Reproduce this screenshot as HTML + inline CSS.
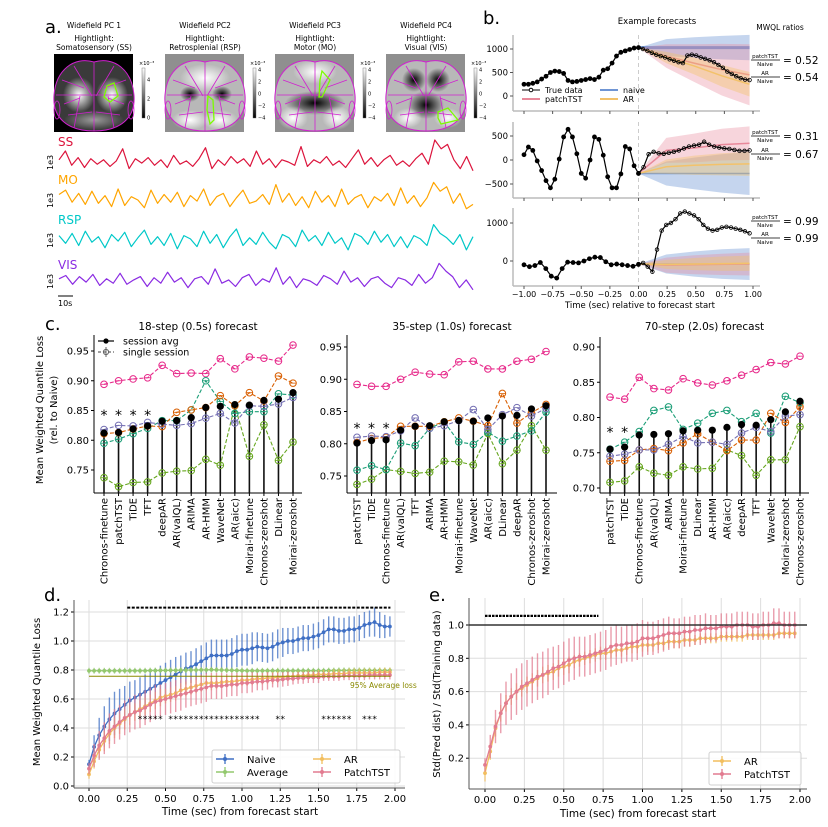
<!DOCTYPE html>
<html><head><meta charset="utf-8"><style>
html,body{margin:0;padding:0;background:#fff}
svg{display:block;font-family:"DejaVu Sans","Liberation Sans",sans-serif}
</style></head><body>
<svg id="fig" width="828" height="827" viewBox="0 0 828 827" xmlns="http://www.w3.org/2000/svg"></svg>
<script>
// ---------- DATA ----------
const traceSS=[2,10,-3,4,-5,3,-2,2,-4,1,12,-6,3,-1,4,-3,2,-5,6,-2,1,-4,3,13,-6,2,-3,5,-1,3,-4,10,-2,3,-5,2,0,-3,14,-4,2,-1,5,-3,1,-5,3,11,-2,4,-4,2,6,-3,1,-4,3,8,-2,20,12,16,2,-6,5,-8];
const traceMO=[5,9,-2,6,-4,8,-3,4,-6,10,-5,3,0,-7,9,-3,5,-2,7,-6,4,-1,10,-5,3,6,-6,2,9,-3,-1,5,-4,14,-2,6,-5,3,-7,8,-2,4,-6,10,-4,2,5,-7,3,-1,6,-5,11,-3,4,-6,2,16,8,12,-3,6,-8,-4];
const traceRSP=[4,-3,6,-5,8,-2,3,-7,5,-1,7,-6,2,9,-4,3,-5,6,-8,4,1,-6,8,-3,5,-7,3,10,-5,2,-4,7,-2,-8,5,2,-6,9,-1,4,-5,7,-3,2,-9,6,3,-4,8,-2,5,-6,3,-7,4,1,-5,14,6,2,-4,5,-9,3];
const traceVIS=[2,5,-3,4,-1,6,-4,2,-2,7,-3,1,4,-5,3,-2,8,-1,3,-6,2,4,-3,11,-2,1,-5,3,6,-4,2,-1,12,-3,4,-6,2,0,-4,5,2,-3,9,-1,3,-5,2,4,-2,-6,3,1,-4,6,-2,3,16,9,4,-6,1,-8];

const b1Past=[250,250,270,300,360,420,500,530,520,480,330,300,310,330,350,370,350,400,550,580,700,850,930,960,990,1020,1030];
const b1True=[1030,1000,960,920,880,850,820,780,750,720,700,860,880,860,820,790,760,720,660,600,520,470,420,380,350,340];
const b1Naive=[1030,1030,1030,1030,1030];
const b1NaiveW=[0,180,220,250,270];
const b1Patch=[1030,850,700,560,450];
const b1PatchW=[0,250,400,550,650];
const b1AR=[1030,820,640,430,250];
const b1ARW=[0,120,180,230,260];
const b2Past=[110,270,200,-20,-220,-430,-580,-400,20,480,640,480,130,-280,-380,0,480,430,100,-350,-580,-580,-290,280,230,-120,-280];
const b2True=[-280,-150,120,170,140,130,150,170,200,240,280,300,320,380,320,280,260,240,230,210,190,190,200];
const b2Naive=[-280,-280,-280,-280,-280];
const b2NaiveW=[0,250,330,400,450];
const b2Patch=[-280,200,250,320,350];
const b2PatchW=[0,260,300,330,350];
const b2AR=[-280,-140,-110,-90,-80];
const b2ARW=[0,150,200,230,250];
const b3Past=[-100,-150,-120,-40,-200,-400,-450,-200,-30,-40,-50,0,60,100,90,-20,-100,-80,-100,-120,-140,-90];
const b3True=[-80,-50,-150,-280,300,800,950,1000,1100,1250,1300,1250,1200,1100,950,850,800,820,880,900,880,850,820,780,730];
const b3Naive=[-80,-80,-80,-80,-80];
const b3NaiveW=[0,250,330,390,420];
const b3Patch=[-80,-110,-100,-90,-80];
const b3PatchW=[0,200,250,280,300];
const b3AR=[-80,-90,-80,-70,-60];
const b3ARW=[0,120,160,190,200];

const c1Cats=["Chronos-finetune","patchTST","TiDE","TFT","deepAR","AR(valQL)","ARIMA","AR-HMM","WaveNet","AR(aicc)","Moirai-finetune","Chronos-zeroshot","DLinear","Moirai-zeroshot"];
const c1Black=[.812,.813,.819,.824,.832,.833,.838,.855,.857,.860,.859,.867,.869,.880];
const c1Pink=[.894,.900,.903,.905,.926,.912,.913,.912,.937,.920,.940,.938,.933,.960];
const c1Orange=[.811,.813,.819,.824,.823,.847,.851,.855,.875,.858,.880,.866,.908,.896];
const c1Teal=[.795,.802,.811,.820,.833,.833,.851,.900,.865,.845,.848,.848,.878,.876];
const c1Green=[.737,.722,.729,.730,.745,.748,.749,.768,.758,.858,.773,.826,.766,.797];
const c1Purple=[.818,.825,.824,.830,.827,.825,.828,.837,.845,.829,.858,.857,.861,.872];
const c1Ticks=[0.75,0.80,0.85,0.90,0.95];

const c2Cats=["patchTST","TiDE","Chronos-finetune","AR(valQL)","TFT","ARIMA","AR-HMM","Moirai-finetune","WaveNet","AR(aicc)","DLinear","deepAR","Chronos-zeroshot","Moirai-zeroshot"];
const c2Black=[.801,.805,.806,.821,.827,.828,.834,.836,.835,.840,.843,.844,.854,.859];
const c2Pink=[.892,.889,.889,.900,.911,.908,.907,.927,.928,.916,.916,.928,.931,.943];
const c2Orange=[.802,.808,.810,.827,.827,.827,.834,.840,.835,.828,.878,.832,.848,.861];
const c2Teal=[.759,.766,.760,.801,.797,.824,.834,.803,.799,.818,.804,.812,.820,.849];
const c2Green=[.737,.745,.760,.757,.754,.756,.773,.772,.767,.816,.769,.790,.828,.790];
const c2Purple=[.810,.812,.811,.820,.840,.824,.828,.836,.853,.822,.845,.856,.843,.855];
const c2Ticks=[0.75,0.80,0.85,0.90,0.95];

const c3Cats=["patchTST","TiDE","Chronos-finetune","AR(valQL)","ARIMA","Moirai-finetune","DLinear","AR-HMM","AR(aicc)","deepAR","TFT","WaveNet","Moirai-zeroshot","Chronos-zeroshot"];
const c3Black=[.755,.758,.775,.776,.777,.781,.782,.782,.786,.790,.789,.797,.808,.823];
const c3Pink=[.829,.826,.857,.841,.839,.855,.849,.846,.852,.860,.868,.878,.876,.887];
const c3Orange=[.738,.739,.754,.756,.753,.764,.777,.765,.753,.768,.768,.806,.793,.815];
const c3Teal=[.755,.765,.780,.810,.815,.783,.792,.806,.810,.794,.806,.778,.830,.821];
const c3Green=[.708,.710,.730,.721,.718,.730,.727,.728,.754,.746,.718,.740,.740,.787];
const c3Purple=[.745,.748,.754,.754,.762,.773,.764,.765,.762,.778,.786,.780,.802,.804];
const c3Ticks=[0.70,0.75,0.80,0.85,0.90];

const dNaive=[.15,.27,.35,.41,.46,.50,.53,.56,.59,.61,.63,.65,.67,.69,.71,.73,.75,.77,.79,.81,.82,.84,.86,.88,.90,.90,.90,.90,.91,.93,.94,.94,.95,.96,.955,.95,.96,.98,.99,1.0,1.0,1.01,1.02,1.02,1.03,1.04,1.06,1.08,1.08,1.07,1.07,1.08,1.08,1.09,1.11,1.12,1.13,1.11,1.10,1.10];
const dNaiveErr=[.03,.08,.12,.14,.15,.15,.14,.13,.13,.12,.12,.12,.12,.12,.12,.12,.12,.12,.11,.11,.11,.11,.11,.11,.11,.11,.11,.11,.11,.11,.11,.11,.11,.10,.10,.10,.10,.10,.10,.09,.09,.09,.09,.09,.09,.09,.09,.09,.09,.09,.09,.09,.09,.09,.09,.09,.10,.09,.08,.07];
const dAverage=[.795,.795,.795,.795,.795,.795,.795,.795,.795,.795,.795,.795,.796,.796,.797,.797,.798,.798,.799,.799,.800,.800,.801,.801,.802,.801,.800,.799,.798,.797,.796,.795,.795,.795,.795,.795,.795,.795,.795,.795,.795,.795,.795,.795,.795,.795,.795,.796,.796,.797,.797,.797,.797,.797,.797,.797,.797,.797,.797,.797];
const dAvgErr=[.02,.02,.02,.02,.02,.02,.02,.02,.02,.02,.02,.02,.02,.02,.02,.02,.02,.02,.02,.02,.02,.02,.02,.02,.02,.02,.02,.02,.02,.02,.02,.02,.02,.02,.02,.02,.02,.02,.02,.02,.02,.02,.02,.02,.02,.02,.02,.02,.02,.02,.02,.02,.02,.02,.02,.02,.02,.02,.02,.02];
const dAR=[.08,.17,.25,.31,.36,.40,.43,.46,.49,.51,.53,.55,.57,.59,.61,.62,.63,.64,.66,.67,.68,.69,.70,.71,.71,.71,.715,.72,.72,.725,.73,.73,.735,.74,.74,.745,.745,.75,.75,.755,.755,.76,.76,.765,.765,.77,.77,.77,.775,.775,.775,.78,.78,.78,.78,.78,.78,.785,.785,.785];
const dARErr=[.03,.05,.06,.07,.07,.07,.07,.07,.07,.06,.06,.06,.06,.06,.06,.05,.05,.05,.05,.05,.05,.05,.05,.05,.05,.04,.04,.04,.04,.04,.04,.04,.04,.04,.04,.04,.04,.04,.03,.03,.03,.03,.03,.03,.03,.03,.03,.03,.03,.03,.03,.03,.03,.03,.03,.03,.03,.03,.03,.03];
const dPatch=[.12,.21,.28,.33,.38,.41,.44,.47,.49,.51,.52,.54,.56,.58,.59,.60,.61,.62,.63,.64,.65,.66,.67,.68,.69,.69,.69,.695,.70,.70,.71,.71,.715,.72,.72,.725,.73,.73,.735,.74,.74,.745,.745,.75,.75,.75,.755,.755,.755,.755,.76,.76,.76,.76,.76,.765,.765,.765,.765,.765];
const dPatchErr=[.04,.08,.10,.11,.12,.12,.12,.12,.12,.12,.12,.12,.12,.12,.11,.11,.11,.11,.11,.10,.10,.10,.10,.10,.09,.09,.09,.08,.08,.08,.07,.07,.07,.06,.06,.06,.05,.05,.05,.05,.04,.04,.04,.04,.04,.04,.03,.03,.03,.03,.03,.03,.03,.03,.03,.03,.03,.03,.03,.03];
const dStarIdx=[10,11,12,13,14,16,17,18,19,20,21,22,23,24,25,26,27,28,29,30,31,32,33,37,38,46,47,48,49,50,51,54,55,56];

const eAR=[.11,.24,.38,.47,.53,.57,.60,.62,.64,.66,.68,.70,.71,.72,.74,.75,.76,.78,.79,.80,.81,.82,.83,.83,.84,.85,.85,.86,.87,.87,.88,.88,.88,.89,.89,.90,.90,.90,.91,.91,.91,.92,.92,.92,.92,.93,.93,.93,.93,.93,.94,.94,.94,.94,.94,.94,.95,.95,.95,.95];
const eARErr=[.05,.05,.05,.05,.05,.05,.05,.05,.05,.05,.05,.05,.05,.05,.05,.05,.05,.04,.04,.04,.04,.04,.04,.04,.04,.04,.04,.04,.04,.04,.04,.04,.04,.04,.04,.04,.04,.04,.04,.04,.03,.03,.03,.03,.03,.03,.03,.03,.03,.03,.03,.03,.03,.03,.03,.03,.03,.03,.03,.03];
const ePatch=[.16,.27,.39,.47,.53,.57,.60,.63,.65,.67,.69,.70,.72,.74,.75,.77,.79,.80,.81,.81,.82,.83,.84,.85,.87,.88,.88,.89,.89,.90,.92,.92,.92,.93,.94,.95,.95,.95,.96,.96,.97,.97,.98,.98,.98,.99,.99,.99,1.00,1.00,1.00,.99,.99,1.00,1.00,1.01,1.01,1.00,1.00,1.00];
const ePatchErr=[.04,.07,.10,.12,.13,.14,.14,.14,.14,.14,.14,.14,.14,.13,.13,.13,.13,.13,.12,.12,.12,.12,.12,.12,.12,.12,.11,.11,.11,.11,.11,.10,.10,.10,.10,.10,.09,.09,.09,.09,.09,.09,.09,.08,.08,.08,.08,.08,.08,.08,.08,.08,.08,.08,.08,.09,.09,.08,.08,.08];

// ---------- HELPERS ----------
const NS="http://www.w3.org/2000/svg";
const svg=document.getElementById('fig');
function el(tag,attrs,parent){const e=document.createElementNS(NS,tag);for(const k in attrs)e.setAttribute(k,attrs[k]);(parent||svg).appendChild(e);return e;}
function txt(x,y,s,size,opts){opts=opts||{};const t=el('text',{x:x,y:y,'font-size':size,fill:opts.fill||'#000','text-anchor':opts.anchor||'start'});if(opts.rot!==undefined)t.setAttribute('transform','rotate('+opts.rot+' '+x+' '+y+')');if(opts.weight)t.setAttribute('font-weight',opts.weight);t.textContent=s;return t;}
function line(x1,y1,x2,y2,stroke,w,dash){const l=el('line',{x1:x1,y1:y1,x2:x2,y2:y2,stroke:stroke,'stroke-width':w||1});if(dash)l.setAttribute('stroke-dasharray',dash);return l;}
function fmt(v,d){return (v<0?'\u2212':'')+Math.abs(v).toFixed(d);}

// ---------- PANEL A ----------
let t;
t=txt(45,33,'a.',18);
const pcTitles=[['Widefield PC 1','Hightlight:','Somatosensory (SS)'],['Widefield PC2','Hightlight:','Retrosplenial (RSP)'],['Widefield PC3','Hightlight:','Motor (MO)'],['Widefield PC4','Hightlight:','Visual (VIS)']];
const brainX=[54,165,275,386];
const defs=el('defs',{});
[['gA','#ffffff','#000000'],['gB','#ffffff','#9a9a9a'],['cb','#ffffff','#000000']].forEach(g=>{const lg=el('linearGradient',{id:g[0],x1:0,y1:0,x2:0,y2:1},defs);el('stop',{offset:0,'stop-color':g[1]},lg);el('stop',{offset:1,'stop-color':g[2]},lg);});
const rg=el('radialGradient',{id:'glow'},defs);el('stop',{offset:0,'stop-color':'#fff'},rg);el('stop',{offset:1,'stop-color':'#fff','stop-opacity':0},rg);
const rd=el('radialGradient',{id:'dark'},defs);el('stop',{offset:0,'stop-color':'#000'},rd);el('stop',{offset:1,'stop-color':'#000','stop-opacity':0},rd);
for(let k=0;k<4;k++){
  const x0=brainX[k];
  const tt=pcTitles[k];
  t=txt(x0+40,28,tt[0],7.5,{anchor:'middle'});
  t=txt(x0+40,41,tt[1],7.5,{anchor:'middle'});
  t=txt(x0+40,50,tt[2],7.5,{anchor:'middle'});
  const g=el('g',{});
  
  
  el('rect',{x:x0,y:54,width:79,height:78,fill:k===0?'#000':'#8f8f8f'},g);
  const outline='M'+(x0+40)+',62 C'+(x0+60)+',56 '+(x0+78)+',70 '+(x0+80)+',95 C'+(x0+82)+',118 '+(x0+66)+',131 '+(x0+40)+',131 C'+(x0+14)+',131 '+(x0-2)+',118 '+(x0)+',95 C'+(x0+2)+',70 '+(x0+20)+',56 '+(x0+40)+',62 Z';
  el('path',{d:outline,fill:k===0?'#3a3a3a':'#b8b8b8'},g);
  if(k===0){el('ellipse',{cx:x0+25,cy:95,rx:16,ry:18,fill:'url(#glow)'},g);el('ellipse',{cx:x0+58,cy:95,rx:16,ry:18,fill:'url(#glow)'},g);el('ellipse',{cx:x0+40,cy:120,rx:30,ry:10,fill:'url(#glow)',opacity:.5},g);}
  if(k===1){el('ellipse',{cx:x0+40,cy:78,rx:25,ry:14,fill:'url(#glow)'},g);el('ellipse',{cx:x0+25,cy:120,rx:18,ry:10,fill:'url(#glow)'},g);el('ellipse',{cx:x0+55,cy:120,rx:18,ry:10,fill:'url(#glow)'},g);el('ellipse',{cx:x0+25,cy:94,rx:10,ry:8,fill:'url(#dark)'},g);el('ellipse',{cx:x0+57,cy:94,rx:10,ry:8,fill:'url(#dark)'},g);}
  if(k===2){el('ellipse',{cx:x0+40,cy:72,rx:22,ry:12,fill:'url(#glow)'},g);el('ellipse',{cx:x0+40,cy:103,rx:30,ry:12,fill:'url(#dark)'},g);el('ellipse',{cx:x0+18,cy:118,rx:15,ry:12,fill:'url(#glow)'},g);el('ellipse',{cx:x0+62,cy:118,rx:15,ry:12,fill:'url(#glow)'},g);}
  if(k===3){el('ellipse',{cx:x0+28,cy:80,rx:12,ry:12,fill:'url(#dark)'},g);el('ellipse',{cx:x0+52,cy:80,rx:12,ry:12,fill:'url(#dark)'},g);el('ellipse',{cx:x0+40,cy:105,rx:18,ry:14,fill:'url(#dark)'},g);el('ellipse',{cx:x0+22,cy:118,rx:14,ry:10,fill:'url(#glow)'},g);el('ellipse',{cx:x0+62,cy:118,rx:14,ry:10,fill:'url(#glow)'},g);}
  el('path',{d:outline,fill:'none',stroke:'#d020d0','stroke-width':1},g);
  const m='#d020d0';
  [[40,62,40,131],[20,66,38,96],[60,66,42,96],[2,95,78,95],[8,80,30,88],[72,80,50,88],[14,115,38,112],[66,115,42,112],[26,96,20,128],[54,96,60,128],[10,104,26,98],[70,104,54,98]].forEach(s=>{el('line',{x1:x0+s[0],y1:s[1],x2:x0+s[2],y2:s[3],stroke:m,'stroke-width':0.8},g);});
  el('ellipse',{cx:x0+3,cy:110,rx:3,ry:9,fill:'none',stroke:m,'stroke-width':.8},g);
  el('ellipse',{cx:x0+77,cy:110,rx:3,ry:9,fill:'none',stroke:m,'stroke-width':.8},g);
  const gp=[[53,86,60,83,64,96,56,102,50,97],[43,96,48,100,49,120,45,124,42,110],[47,71,55,80,47,97,44,97,45,80],[52,112,62,108,72,120,55,124,52,118]][k];
  el('polygon',{points:gp.map((v,i)=>i%2===0?x0+v:v).join(','),fill:'none',stroke:'#7cfc00','stroke-width':1.3},g);
  const cbx=x0+88;
  const cbar=el('rect',{x:cbx,y:68,width:3,height:50,fill:'url(#cb)',stroke:'#666','stroke-width':.4});
  
  
  txt(cbx-3,65,'\u00d710\u207b\u00b3',5);
  const cbl=k===0?['4','2','0']:['4','2','0','\u22122','\u22124'];
  cbl.forEach((s,i)=>{txt(cbx+5,(k===0?[80,99,118]:[70,82,94,106,118])[i]+1.5,s,5);});
}
const traces=[['SS',traceSS,'#dc143c',162,146],['MO',traceMO,'#ffa500',200,184],['RSP',traceRSP,'#00c8c8',240,224],['VIS',traceVIS,'#8a2be2',281,269]];
traces.forEach(tr=>{
  t=txt(58,tr[4],tr[0],12,{fill:tr[2]});
  t=txt(53,tr[3]+8,'1e3',8,{rot:-90});
  const d=tr[1];const n=d.length;
  const pts=d.map((v,i)=>(59+i*(414/(n-1))).toFixed(1)+','+(tr[3]-v*1.1).toFixed(1)).join(' ');
  const p=el('polyline',{points:pts,fill:'none',stroke:tr[2],'stroke-width':1.2,'stroke-linejoin':'round'});
  
  
});
line(58,296,73,296,'#000',1);
t=txt(58,306,'10s',8);

// ---------- PANEL B ----------
t=txt(483,24,'b.',18);
t=txt(657,24,'Example forecasts',8.5,{anchor:'middle'});
t=txt(780,30,'MWQL ratios',7.5,{anchor:'middle'});
const bx=v=>524+(v+1)*114.5;
const subs=[
 {past:b1Past,tru:b1True,nv:b1Naive,nw:b1NaiveW,pm:b1Patch,pw:b1PatchW,am:b1AR,aw:b1ARW,y0:96,y1:49,v1:1000,top:35,bot:111,ticks:[0,500,1000],r:['0.52','0.54'],ry:[60,77]},
 {past:b2Past,tru:b2True,nv:b2Naive,nw:b2NaiveW,pm:b2Patch,pw:b2PatchW,am:b2AR,aw:b2ARW,y0:160,y1:136,v1:500,top:122,bot:198,ticks:[-500,0,500],r:['0.31','0.67'],ry:[136,154]},
 {past:b3Past,tru:b3True,nv:b3Naive,nw:b3NaiveW,pm:b3Patch,pw:b3PatchW,am:b3AR,aw:b3ARW,y0:261,y1:223,v1:1000,top:208,bot:286,ticks:[0,1000],r:['0.99','0.99'],ry:[221,238]}
];
subs.forEach((s,si)=>{
  const by=v=>s.y0-(v/s.v1)*(s.y0-s.y1);
  const g=el('g',{});
  
  
  el('line',{x1:513,y1:s.top,x2:513,y2:s.bot,stroke:'#bbb','stroke-width':1.5},g);
  el('line',{x1:513,y1:s.bot,x2:760,y2:s.bot,stroke:'#bbb','stroke-width':1.5},g);
  s.ticks.forEach(v=>{el('line',{x1:510,y1:by(v),x2:513,y2:by(v),stroke:'#555'},g);const tk=txt(508,by(v)+3,fmt(v,0),8.5,{anchor:'end'});g.appendChild(tk);});
  for(let v=-1;v<=1.001;v+=0.25){el('line',{x1:bx(v),y1:s.bot,x2:bx(v),y2:s.bot+3,stroke:'#555'},g);}
  const band=(m,w,col,op,name)=>{const n=m.length;const xs=m.map((_,i)=>bx(i*0.97/(n-1)));let d='M'+xs.map((x,i)=>x+','+by(m[i]+w[i])).join(' L')+' L'+xs.slice().reverse().map((x,j)=>{const i=n-1-j;return x+','+by(m[i]-w[i]);}).join(' L')+'Z';const b=el('path',{d:d,fill:col,opacity:op},g);const l=el('polyline',{points:xs.map((x,i)=>x+','+by(m[i])).join(' '),fill:'none',stroke:col,'stroke-width':si===0&&name==='naive-band'?3:1.5},g);};
  band(s.nv,s.nw,'#6f95d4',.4,'naive-band');
  band(s.pm,s.pw,'#e8889a',.35,'patchtst-band');
  band(s.am,s.aw,'#f3c26a',.4,'ar-band');
  el('line',{x1:bx(0),y1:s.top,x2:bx(0),y2:s.bot,stroke:'#ccc','stroke-width':1,'stroke-dasharray':'4,3'},g);
  const np=s.past.length;
  const pp=s.past.map((v,i)=>[bx(-1+i/(np-1)),by(v)]);
  el('polyline',{points:pp.map(p=>p.join(',')).join(' '),fill:'none',stroke:'#000','stroke-width':1.2},g);
  pp.forEach(p=>{const c=el('circle',{cx:p[0],cy:p[1],r:2.4,fill:'#000'},g);});
  const nt=s.tru.length;
  const tp=s.tru.map((v,i)=>[bx(i*0.97/(nt-1)),by(v)]);
  el('polyline',{points:tp.map(p=>p.join(',')).join(' '),fill:'none',stroke:'#000','stroke-width':1.2},g);
  tp.forEach(p=>{const c=el('circle',{cx:p[0],cy:p[1],r:1.8,fill:'none',stroke:'#000','stroke-width':.8},g);});
  [['patchTST',s.r[0]],['AR',s.r[1]]].forEach((r,ri)=>{
    const cy=s.ry[ri];
    txt(765,cy-2,r[0],5.5,{anchor:'middle'});
    line(751,cy,780,cy,'#000',.7);
    txt(765,cy+6,'Naive',5.5,{anchor:'middle'});
    const rt=txt(783,cy+4,'= '+r[1],10.5);
    
    
  });
});
for(let v=-1;v<=1.001;v+=0.25){const tk=txt(bx(v),297,fmt(v,2),8,{anchor:'middle'});}
t=txt(640,308,'Time (sec) relative to forecast start',8.5,{anchor:'middle'});
const lgB=el('g',{});


[[522,90,'#000','True data'],[522,99,'#e8889a','patchTST'],[600,90,'#6f95d4','naive'],[600,99,'#f3c26a','AR']].forEach(l=>{el('line',{x1:l[0],y1:l[1],x2:l[0]+18,y2:l[1],stroke:l[2],'stroke-width':l[2]==='#000'?1:2},lgB);if(l[2]==='#000')el('circle',{cx:l[0]+9,cy:l[1],r:1.8,fill:'#fff',stroke:'#000'},lgB);const tx=txt(l[0]+23,l[1]+3,l[3],8);lgB.appendChild(tx);});

// ---------- PANEL C ----------
t=txt(45,330,'c.',18);
t=txt(43,410,'Mean Weighted Quantile Loss',10,{anchor:'middle',rot:-90});
t=txt(57,410,'(rel. to Naive)',10,{anchor:'middle',rot:-90});
const cPanels=[
 {title:'18-step (0.5s) forecast',cats:c1Cats,black:c1Black,pink:c1Pink,orange:c1Orange,teal:c1Teal,green:c1Green,purple:c1Purple,ticks:c1Ticks,sx:94,ex:302,x0:104,x1:293,yRef:0.95,yRefPx:351,ppu:595,top:335,stars:4,starY:420},
 {title:'35-step (1.0s) forecast',cats:c2Cats,black:c2Black,pink:c2Pink,orange:c2Orange,teal:c2Teal,green:c2Green,purple:c2Purple,ticks:c2Ticks,sx:347,ex:557,x0:357,x1:546,yRef:0.95,yRefPx:347,ppu:645,top:335,stars:3,starY:433},
 {title:'70-step (2.0s) forecast',cats:c3Cats,black:c3Black,pink:c3Pink,orange:c3Orange,teal:c3Teal,green:c3Green,purple:c3Purple,ticks:c3Ticks,sx:600,ex:809,x0:610,x1:800,yRef:0.90,yRefPx:347,ppu:705,top:337,stars:2,starY:437}
];
const cBot=493;
cPanels.forEach((P,pi)=>{
  const cy=v=>P.yRefPx+(P.yRef-v)*P.ppu;
  const cx=i=>P.x0+i*(P.x1-P.x0)/(P.cats.length-1);
  const g=el('g',{});
  
  
  const tl=txt((P.sx+P.ex)/2,330,P.title,10.5,{anchor:'middle'});g.appendChild(tl);
  el('line',{x1:P.sx,y1:P.top,x2:P.sx,y2:cBot,stroke:'#000','stroke-width':1},g);
  el('line',{x1:P.sx,y1:cBot,x2:P.ex,y2:cBot,stroke:'#000','stroke-width':1},g);
  P.ticks.forEach(v=>{el('line',{x1:P.sx-3,y1:cy(v),x2:P.sx,y2:cy(v),stroke:'#000'},g);const tk=txt(P.sx-5,cy(v)+3.5,v.toFixed(2),10,{anchor:'end'});g.appendChild(tk);});
  P.cats.forEach((c,i)=>{el('line',{x1:cx(i),y1:cBot,x2:cx(i),y2:cBot+3,stroke:'#000'},g);const tk=txt(cx(i)+3.5,498,c,10,{anchor:'end',rot:-90});g.appendChild(tk);});
  P.black.forEach((v,i)=>{const s=el('line',{x1:cx(i),y1:cBot,x2:cx(i),y2:cy(v),stroke:'#111','stroke-width':1.6},g);});
  const series=[['pink',P.pink,'#e7298a'],['green',P.green,'#66a61e'],['teal',P.teal,'#1b9e77'],['orange',P.orange,'#d95f02'],['purple',P.purple,'#7570b3']];
  series.forEach(S=>{
    const pl=el('polyline',{points:S[1].map((v,i)=>cx(i)+','+cy(v)).join(' '),fill:'none',stroke:S[2],'stroke-width':1.1,'stroke-dasharray':'4,2'},g);
    
    
    S[1].forEach((v,i)=>{const c=el('circle',{cx:cx(i),cy:cy(v),r:3.3,fill:'none',stroke:S[2],'stroke-width':1},g);el('line',{x1:cx(i)-3.3,y1:cy(v),x2:cx(i)+3.3,y2:cy(v),stroke:S[2],'stroke-width':.8},g);});
  });
  P.black.forEach((v,i)=>{const c=el('circle',{cx:cx(i),cy:cy(v),r:3.6,fill:'#000'},g);});
  for(let i=0;i<P.stars;i++){const st=txt(cx(i),P.starY,'*',14,{anchor:'middle'});g.appendChild(st);}
});
const lgC=el('g',{});


el('line',{x1:98,y1:341,x2:114,y2:341,stroke:'#000','stroke-width':1.2},lgC);el('circle',{cx:106,cy:341,r:2.6,fill:'#000'},lgC);
lgC.appendChild(txt(123,344.5,'session avg',9.5));
el('line',{x1:98,y1:352,x2:114,y2:352,stroke:'#666','stroke-width':1.2,'stroke-dasharray':'3,2'},lgC);el('circle',{cx:106,cy:352,r:2.6,fill:'none',stroke:'#666'},lgC);el('line',{x1:106,y1:347,x2:106,y2:357,stroke:'#666'},lgC);
lgC.appendChild(txt(123,355.5,'single session',9.5));

// ---------- PANEL D ----------
t=txt(44,601,'d.',18);
const dx=tv=>89+tv*153;
const dy=v=>786-v*145;
const dt=1/30;
const gd=el('g',{});


[0,.25,.5,.75,1,1.25,1.5,1.75,2].forEach(v=>{el('line',{x1:dx(v),y1:600,x2:dx(v),y2:788,stroke:'#ddd'},gd);el('line',{x1:dx(v),y1:788,x2:dx(v),y2:791,stroke:'#000'},gd);gd.appendChild(txt(dx(v),802,v.toFixed(2),10,{anchor:'middle'}));});
[0,.2,.4,.6,.8,1,1.2].forEach(v=>{el('line',{x1:74,y1:dy(v),x2:405,y2:dy(v),stroke:'#ddd'},gd);el('line',{x1:71,y1:dy(v),x2:74,y2:dy(v),stroke:'#000'},gd);gd.appendChild(txt(69,dy(v)+3.5,v.toFixed(1),10,{anchor:'end'}));});
el('line',{x1:74,y1:600,x2:74,y2:788,stroke:'#555'},gd);el('line',{x1:74,y1:788,x2:405,y2:788,stroke:'#555'},gd);
function errSeries(g,xf,yf,m,e,col,name){
  m.forEach((v,i)=>{const eb=el('line',{x1:xf(i*dt),y1:yf(v-e[i]),x2:xf(i*dt),y2:yf(v+e[i]),stroke:col,'stroke-width':1.4,opacity:.75},g);});
  const pl=el('polyline',{points:m.map((v,i)=>xf(i*dt)+','+yf(v)).join(' '),fill:'none',stroke:col,'stroke-width':1.3},g);
  
  
  m.forEach((v,i)=>{const c=el('circle',{cx:xf(i*dt),cy:yf(v),r:1.9,fill:col},g);});
}
errSeries(gd,dx,dy,dNaive,dNaiveErr,'#3f6fc4','naive');
errSeries(gd,dx,dy,dAverage,dAvgErr,'#93c86e','average');
errSeries(gd,dx,dy,dAR,dARErr,'#f2be5e','ar');
errSeries(gd,dx,dy,dPatch,dPatchErr,'#e27b90','patchtst');
const l95=line(dx(0),dy(0.757),dx(1.97),dy(0.757),'#8a8a00',1);
t=txt(350,688,'95% Average loss',7.5,{fill:'#8a8a00'});
const dotl=line(dx(0.25),dy(1.23),dx(1.97),dy(1.23),'#000',2,'3,1.5');
dStarIdx.forEach(i=>{const s=txt(dx(i*dt),dy(0.44),'*',9,{anchor:'middle'});});
t=txt(40,692,'Mean Weighted Quantile Loss',10,{anchor:'middle',rot:-90});
t=txt(240,815,'Time (sec) from forecast start',10.5,{anchor:'middle'});
const lgD=el('g',{});


el('rect',{x:212,y:750,width:188,height:33,fill:'#fff',stroke:'#ccc',rx:2,opacity:.9},lgD);
[[216,759,'#3f6fc4','Naive'],[216,772,'#93c86e','Average'],[313,759,'#f2be5e','AR'],[313,772,'#e27b90','PatchTST']].forEach(l=>{el('line',{x1:l[0],y1:l[1],x2:l[0]+18,y2:l[1],stroke:l[2],'stroke-width':1.5},lgD);el('line',{x1:l[0]+9,y1:l[1]-5,x2:l[0]+9,y2:l[1]+5,stroke:l[2],'stroke-width':1.3},lgD);el('circle',{cx:l[0]+9,cy:l[1],r:2,fill:l[2]},lgD);lgD.appendChild(txt(l[0]+31,l[1]+4,l[3],10));});

// ---------- PANEL E ----------
t=txt(429,601,'e.',18);
const ex=tv=>485+tv*157.5;
const ey=v=>625+(1-v)*166.5;
const ge=el('g',{});


[0,.25,.5,.75,1,1.25,1.5,1.75,2].forEach(v=>{el('line',{x1:ex(v),y1:598,x2:ex(v),y2:789,stroke:'#ddd'},ge);el('line',{x1:ex(v),y1:789,x2:ex(v),y2:792,stroke:'#000'},ge);ge.appendChild(txt(ex(v),803,v.toFixed(2),10,{anchor:'middle'}));});
[.2,.4,.6,.8,1].forEach(v=>{el('line',{x1:469,y1:ey(v),x2:807,y2:ey(v),stroke:'#ddd'},ge);el('line',{x1:466,y1:ey(v),x2:469,y2:ey(v),stroke:'#000'},ge);ge.appendChild(txt(464,ey(v)+3.5,v.toFixed(1),10,{anchor:'end'}));});
el('line',{x1:469,y1:598,x2:469,y2:789,stroke:'#555'},ge);el('line',{x1:469,y1:789,x2:807,y2:789,stroke:'#555'},ge);
const ref=line(469,ey(1),807,ey(1),'#333',1.4);
errSeries(ge,ex,ey,eAR,eARErr,'#f2be5e','ar');
errSeries(ge,ex,ey,ePatch,ePatchErr,'#e27b90','patchtst');
const ebar=line(ex(0),ey(1.055),ex(0.72),ey(1.055),'#000',2.2,'2.5,1');
t=txt(440,694,'Std(Pred dist) / Std(Training data)',10,{anchor:'middle',rot:-90});
t=txt(638,817,'Time (sec) from forecast start',10.5,{anchor:'middle'});
const lgE=el('g',{});


el('rect',{x:709,y:752,width:92,height:33,fill:'#fff',stroke:'#ccc',rx:2,opacity:.9},lgE);
[[713,761,'#f2be5e','AR'],[713,774,'#e27b90','PatchTST']].forEach(l=>{el('line',{x1:l[0],y1:l[1],x2:l[0]+18,y2:l[1],stroke:l[2],'stroke-width':1.5},lgE);el('line',{x1:l[0]+9,y1:l[1]-5,x2:l[0]+9,y2:l[1]+5,stroke:l[2],'stroke-width':1.3},lgE);el('circle',{cx:l[0]+9,cy:l[1],r:2,fill:l[2]},lgE);lgE.appendChild(txt(l[0]+31,l[1]+4,l[3],10));});
</script>
</body></html>
